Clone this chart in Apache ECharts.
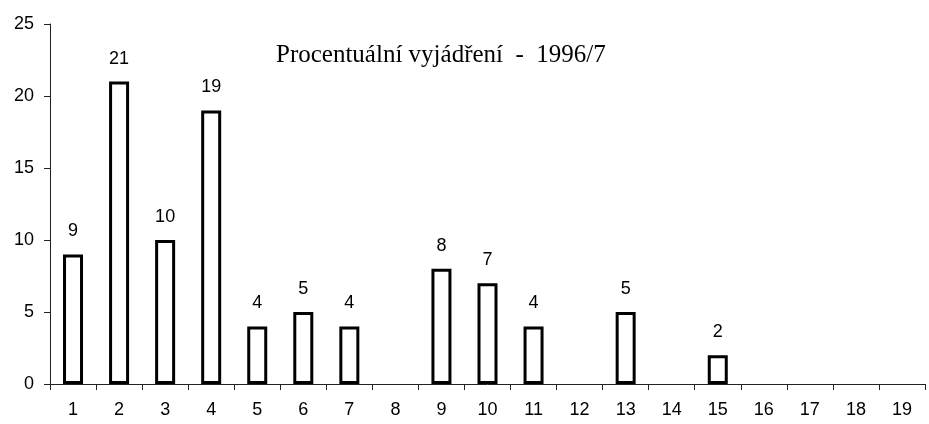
<!DOCTYPE html>
<html>
<head>
<meta charset="utf-8">
<script src="https://cdn.jsdelivr.net/npm/echarts@6/dist/echarts.min.js"></script>
<style>
  html, body { margin: 0; padding: 0; background: #fff; }
  #chart { width: 929px; height: 424px; }
</style>
</head>
<body>
<div id="chart"></div>
<script>
const categories = ['1', '2', '3', '4', '5', '6', '7', '8', '9', '10', '11', '12', '13', '14', '15', '16', '17', '18', '19'];
const values = [9, 21, 10, 19, 4, 5, 4, null, 8, 7, 4, null, 5, null, 2, null, null, null, null];
const yTicks = [0, 5, 10, 15, 20, 25];

const chart = echarts.init(document.getElementById('chart'));

chart.setOption({
  animation: false,
  title: {
    text: 'Procentuální vyjádření  -  1996/7',
    left: 271,
    top: 38,
    textStyle: { fontFamily: 'Liberation Serif', fontSize: 25, fontWeight: 'normal', color: '#000' }
  },
  grid: { left: 50, right: 4, top: 24, bottom: 40 },
  xAxis: {
    type: 'category',
    data: categories,
    axisLine: { lineStyle: { color: '#222', width: 1 } },
    axisTick: { show: true, length: 6, lineStyle: { color: '#222' } },
    axisLabel: { color: '#000', fontFamily: 'Liberation Sans', fontSize: 18, margin: 17 }
  },
  yAxis: {
    type: 'value',
    min: yTicks[0],
    max: yTicks[yTicks.length - 1],
    interval: 5,
    splitLine: { show: false },
    axisLine: { show: true, lineStyle: { color: '#222', width: 1 } },
    axisTick: { show: true, length: 6, lineStyle: { color: '#222' } },
    axisLabel: { color: '#000', fontFamily: 'Liberation Sans', fontSize: 18, margin: 16 }
  },
  series: [{
    type: 'bar',
    data: values,
    barWidth: 20,
    itemStyle: { color: '#fff', borderColor: '#000', borderWidth: 3 },
    label: {
      show: true,
      position: 'top',
      distance: 14,
      color: '#000',
      fontFamily: 'Liberation Sans',
      fontSize: 18
    }
  }]
});
</script>
</body>
</html>
